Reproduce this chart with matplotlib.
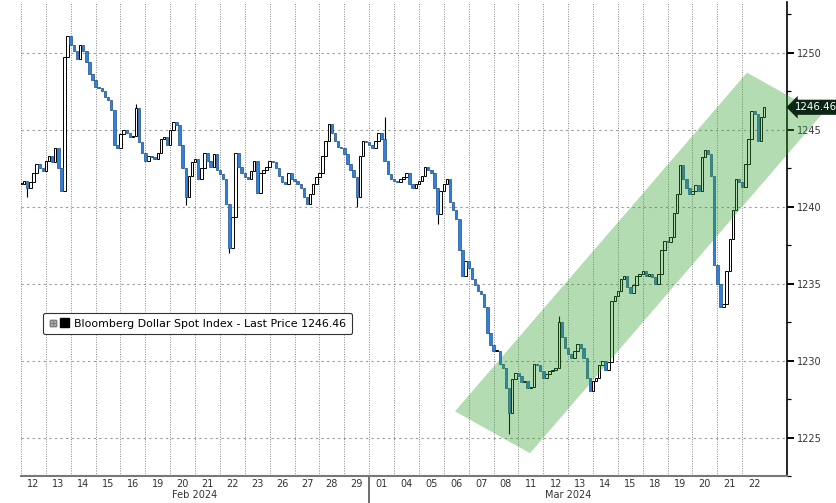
import matplotlib
matplotlib.use("Agg")
import matplotlib.pyplot as plt
import matplotlib.transforms as mtransforms
from matplotlib.patches import Polygon, Patch
from matplotlib.lines import Line2D
from matplotlib.legend_handler import HandlerTuple
import numpy as np

# trading days shown on the x axis
day_labels = ["12", "13", "14", "15", "16", "19", "20", "21", "22", "23", "26", "27", "28", "29",
              "01", "04", "05", "06", "07", "08", "11", "12", "13", "14", "15", "18", "19", "20", "21", "22"]
month_labels = ["Feb 2024", "Mar 2024"]
month_start = [0, 14]
bars_per_day = 8

# bar closes, 8 bars per trading day
close = [
    1241.5, 1241.7, 1241.2, 1241.6, 1242.2, 1242.8, 1242.5, 1242.3,  # Feb 12
    1243.0, 1243.3, 1242.9, 1243.8, 1242.5, 1241.0, 1249.7, 1251.1,  # Feb 13
    1250.5, 1250.1, 1249.6, 1250.5, 1250.1, 1249.4, 1248.6, 1248.2,  # Feb 14
    1247.8, 1247.7, 1247.5, 1247.1, 1246.9, 1246.3, 1244.0, 1243.8,  # Feb 15
    1244.7, 1245.0, 1244.8, 1244.5, 1244.6, 1246.4, 1244.2, 1243.5,  # Feb 16
    1243.0, 1243.3, 1243.2, 1243.1, 1243.5, 1244.4, 1244.5, 1244.0,  # Feb 19
    1245.0, 1245.5, 1245.3, 1244.0, 1242.5, 1240.6, 1242.0, 1242.9,  # Feb 20
    1243.1, 1241.8, 1242.5, 1243.5, 1243.0, 1242.6, 1243.4, 1242.4,  # Feb 21
    1242.1, 1241.8, 1240.2, 1237.3, 1239.3, 1243.5, 1242.6, 1242.2,  # Feb 22
    1241.9, 1241.8, 1242.3, 1243.0, 1240.9, 1242.2, 1242.4, 1242.6,  # Feb 23
    1243.0, 1242.9, 1242.5, 1242.0, 1241.6, 1241.5, 1242.2, 1241.8,  # Feb 26
    1241.7, 1241.5, 1241.2, 1240.6, 1240.2, 1240.8, 1241.5, 1241.9,  # Feb 27
    1242.2, 1243.3, 1244.3, 1245.4, 1244.8, 1244.3, 1243.9, 1243.8,  # Feb 28
    1243.4, 1242.8, 1242.4, 1241.9, 1240.6, 1243.3, 1244.3, 1244.2,  # Feb 29
    1244.0, 1243.8, 1244.3, 1244.8, 1244.4, 1243.0, 1242.1, 1241.8,  # Mar 01
    1241.7, 1241.6, 1241.8, 1241.9, 1242.2, 1241.5, 1241.2, 1241.5,  # Mar 04
    1241.7, 1242.0, 1242.6, 1242.4, 1242.2, 1241.2, 1239.5, 1241.0,  # Mar 05
    1241.5, 1241.8, 1240.3, 1239.8, 1239.2, 1237.2, 1235.5, 1236.5,  # Mar 06
    1236.0, 1235.3, 1234.9, 1234.5, 1234.3, 1233.5, 1231.8, 1231.0,  # Mar 07
    1230.6, 1230.6, 1229.8, 1229.5, 1228.2, 1226.6, 1228.8, 1229.2,  # Mar 08
    1229.0, 1228.6, 1228.7, 1228.2, 1228.3, 1229.8, 1229.7, 1229.3,  # Mar 11
    1228.9, 1229.1, 1229.3, 1229.4, 1229.5, 1232.5, 1231.5, 1230.8,  # Mar 12
    1230.4, 1230.2, 1230.6, 1231.1, 1230.8, 1230.2, 1228.9, 1228.0,  # Mar 13
    1228.7, 1228.9, 1229.7, 1230.0, 1229.4, 1229.9, 1233.9, 1234.2,  # Mar 14
    1234.5, 1235.3, 1235.5, 1234.8, 1234.4, 1234.9, 1235.5, 1235.6,  # Mar 15
    1235.8, 1235.5, 1235.6, 1235.4, 1235.0, 1235.6, 1237.2, 1237.8,  # Mar 18
    1237.7, 1238.0, 1239.6, 1240.8, 1242.7, 1241.8, 1241.2, 1240.8,  # Mar 19
    1241.0, 1241.4, 1241.0, 1243.2, 1243.7, 1243.4, 1242.0, 1236.2,  # Mar 20
    1235.0, 1233.5, 1233.7, 1235.8, 1237.9, 1239.8, 1241.8, 1241.6,  # Mar 21
    1241.3, 1242.8, 1244.4, 1246.2, 1246.0, 1244.3, 1245.8, 1246.46,  # Mar 22
]
# intraday extremes that poke out of the bodies
spike_bars = [2, 37, 53, 67, 108, 117, 134, 157, 173]
spike_vals = [1240.6, 1246.7, 1240.1, 1237.0, 1240.0, 1245.8, 1238.9, 1225.2, 1232.9]

last_price = 1246.46
series_name = "Bloomberg Dollar Spot Index - Last Price 1246.46"

# trend channel corners (day position, index level)
channel_x = [17.45, 20.47, 32.2, 29.19]
channel_y = [1226.7, 1223.98, 1246.0, 1248.71]

BLUE = "#2c82dc"

close = np.array(close)
n = len(close)
x = np.arange(n) / bars_per_day
opn = np.concatenate([[close[0]], close[:-1]])
hi = np.maximum(opn, close)
lo = np.minimum(opn, close)
for b, v in zip(spike_bars, spike_vals):
    hi[b] = max(hi[b], v)
    lo[b] = min(lo[b], v)

fig = plt.figure(figsize=(8.36, 5.03), dpi=100)
ax = fig.add_axes([21 / 836, 27 / 503, 766 / 836, 474 / 503])

up = close >= opn
# wicks
ax.vlines(x, lo, hi, color="black", lw=0.8, zorder=2)
body = np.maximum(np.abs(close - opn), 0.06)
ax.bar(x[up], body[up], bottom=np.minimum(opn, close)[up], width=0.1,
       facecolor="white", edgecolor="black", linewidth=0.7, zorder=3)
ax.bar(x[~up], body[~up], bottom=np.minimum(opn, close)[~up], width=0.1,
       facecolor=BLUE, edgecolor="#24518a", linewidth=0.5, zorder=3)

# channel overlay
chan = Polygon(list(zip(channel_x, channel_y)), closed=True, facecolor="#2ea02e",
               alpha=0.36, edgecolor="none", zorder=4, clip_on=False)
ax.add_patch(chan)

ax.set_xlim(0, 30.8)
ax.set_ylim(1222.62, 1253.3)

# x axis: day labels centred in their slot, grid on slot edges
ax.set_xticks(np.arange(len(day_labels)) + 0.5)
ax.set_xticklabels(day_labels)
ax.set_xticks(np.arange(len(day_labels)), minor=True)
ax.tick_params(axis="x", which="both", length=0, labelsize=7, colors="#333333", pad=2)
ax.grid(axis="x", which="minor", color="#888888", linestyle=(0, (1, 1.5)), linewidth=0.7)

trans = mtransforms.blended_transform_factory(ax.transData, ax.transAxes)
bounds = month_start + [len(day_labels)]
for i, lab in enumerate(month_labels):
    ax.text((bounds[i] + bounds[i + 1]) / 2, -0.040, lab, transform=trans,
            ha="center", va="center", fontsize=7, color="#333333")
ax.plot([month_start[1], month_start[1]], [0, -0.06], transform=trans, color="#555555",
        lw=1.2, clip_on=False)

# y axis on the right
ax.yaxis.tick_right()
ax.set_yticks(np.arange(1225, 1251, 5))
ax.set_yticks(np.arange(1222.5, 1253.5, 2.5), minor=True)
ax.tick_params(axis="y", which="major", direction="out", length=5, width=1.4,
               labelsize=7, labelcolor="#333333", pad=2)
ax.tick_params(axis="y", which="minor", direction="out", length=3, width=0.9)
ax.grid(axis="y", which="major", color="#999999", linestyle=(0, (2, 3)), linewidth=0.8)
ax.set_axisbelow(True)

for s in ["top", "left"]:
    ax.spines[s].set_visible(False)
ax.spines["right"].set_color("black")
ax.spines["right"].set_linewidth(1.2)
ax.spines["bottom"].set_color("#777777")
ax.spines["bottom"].set_linewidth(1.5)

# last price tag
ytr = mtransforms.blended_transform_factory(ax.transAxes, ax.transData)
ax.text(1.01, last_price, f"{last_price:.2f}", transform=ytr, ha="left", va="center",
        fontsize=7.4, color="white", zorder=6,
        bbox=dict(boxstyle="larrow,pad=0.25", facecolor="#0c2616", edgecolor="none"))

# legend box with the small expand icon and a black swatch
icon = Line2D([], [], marker=r"$\boxplus$", color="#808080", linestyle="none", markersize=5)
swatch = Patch(facecolor="black", edgecolor="black")
leg = ax.legend(handles=[(icon, swatch)], labels=[series_name],
                handler_map={tuple: HandlerTuple(ndivide=None, pad=0.2)},
                loc="upper left", bbox_to_anchor=(43 / 836, 1 - 313 / 503),
                bbox_transform=fig.transFigure, fontsize=7.9, frameon=True, fancybox=True,
                edgecolor="#333333", framealpha=1, handlelength=1.9, handleheight=0.85,
                handletextpad=0.45, borderpad=0.5, borderaxespad=0)
leg.get_frame().set_linewidth(0.8)
leg.set_zorder(7)

fig.savefig("out.png", dpi=100)
